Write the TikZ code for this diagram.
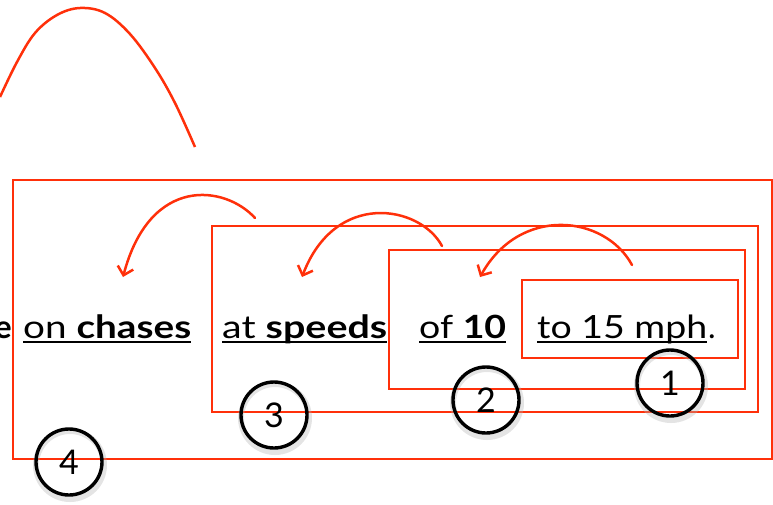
\documentclass[tikz,border=0pt]{standalone}
\usepackage{fontspec}
\setmainfont{Lato}
\usetikzlibrary{arrows.meta}
\definecolor{mred}{RGB}{255,48,10}
\begin{document}
\begin{tikzpicture}[x=1pt,y=-1pt,
  frame/.style={draw=mred, line width=1.3pt},
  phrase/.style={anchor=base west, inner sep=0pt, font=\fontsize{32}{36}\selectfont},
  uline/.style={line width=1.8pt, black},
  jump/.style={draw=mred, line width=2.5pt, line cap=round, -{Straight Barb[length=8pt,width=16pt]}},
  arc/.style={draw=mred, line width=2.5pt},
  num/.style={circle, draw=black, line width=3.4pt, minimum size=66pt, inner sep=0pt, font=\fontsize{34}{36}\selectfont},
  ring/.style={circle, draw=black!30, opacity=0.35, line width=6pt, minimum size=68pt, inner sep=0pt},
]
\useasboundingbox (0,0) rectangle (773,504);
\clip (0,0) rectangle (773,504);

% frames
\draw[frame] (13,180) rectangle (772,459);
\draw[frame] (212,226) rectangle (758,412);
\draw[frame] (389,250) rectangle (745,389);
\draw[frame] (522,280) rectangle (738,358);

% text
\node[phrase, anchor=base east] (t0) at (12,338) {\textbf{e}};
\node[phrase] (t1) at (23,338) {\resizebox{168pt}{\height}{on \textbf{chases}}};
\node[phrase] (t2) at (222,338) {\resizebox{165pt}{\height}{at \textbf{speeds}}};
\node[phrase] (t3) at (419,338) {\resizebox{87pt}{\height}{of \textbf{10}}};
\node[phrase] (t4) at (537,338) {\resizebox{170pt}{\height}{to 15 mph}};
\node[phrase] (t5) at (708,338) {.};
\foreach \t in {t1,t2,t3,t4}
  \draw[uline] ([yshift=-4pt]\t.base west) -- ([yshift=-4pt]\t.base east);

% arrows
\coordinate (a0s) at (0,97);
\coordinate (a0e) at (195,147);
\draw[arc] plot[smooth, tension=0.6] coordinates {(a0s) (17,62) (35,33) (57,15) (80,8) (105,13) (130,34) (155,68) (175,103) (a0e)};
\coordinate (a1s) at (255,218);
\coordinate (a1e) at (123,277);
\draw[jump] (a1s) .. controls (225,185) and (150,175) .. (a1e);
\coordinate (a2s) at (442,246);
\coordinate (a2e) at (302,277);
\draw[jump] (a2s) .. controls (420,205) and (335,190) .. (a2e);
\coordinate (a3s) at (632,265);
\coordinate (a3e) at (480,277);
\draw[jump] (a3s) .. controls (605,215) and (520,205) .. (a3e);

% numbered circles
\node[ring] (s1) at (671,386) {};
\node[ring] (s2) at (487,403) {};
\node[ring] (s3) at (275,418) {};
\node[ring] (s4) at (70,465) {};
\node[num] (c1) at (670,383) {\raisebox{-4pt}{1}};
\node[num] (c2) at (486,400) {\raisebox{-4pt}{2}};
\node[num] (c3) at (274,415) {\raisebox{-4pt}{3}};
\node[num] (c4) at (69,462) {\raisebox{-4pt}{4}};
\end{tikzpicture}
\end{document}
